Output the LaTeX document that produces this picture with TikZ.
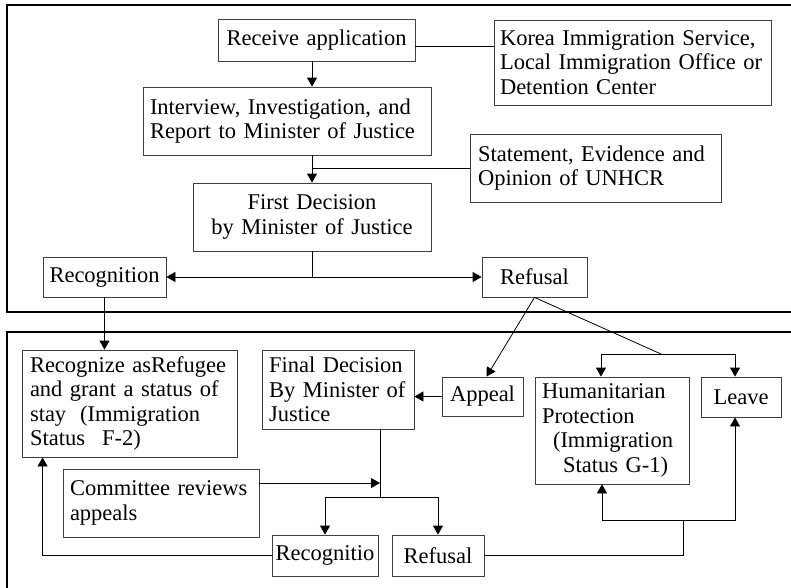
\documentclass[tikz,border=0pt]{standalone}
\usepackage{fontspec}
\setmainfont{Liberation Serif}
\usetikzlibrary{arrows.meta}

\tikzset{
	box/.style={draw=black!75, line width=0.8pt, inner xsep=3pt, inner ysep=2pt,
		font=\fontsize{22.5}{24.5}\selectfont},
	lbox/.style={box, align=left},
	cbox/.style={box, align=center},
	panel/.style={draw=black, line width=2pt},
	>={Triangle[length=9pt,width=10pt]}
}

\begin{document}
\begin{tikzpicture}[x=1pt,y=-1pt,line width=0.8pt]
	\clip (0,0) rectangle (791,587);
	% the two stages
	\draw[panel] (7,5) rectangle (810,312);
	\draw[panel] (7,332) rectangle (810,610);

	% first stage
	\node[cbox, text width=191pt, minimum height=42pt] (recv) at (316.5,40) {Receive application};
	\node[lbox, text width=271pt, minimum height=85pt] (kis) at (632.5,62.5) {\hspace*{3pt}Korea Immigration Service,\\\hspace*{3pt}Local Immigration Office or\\\hspace*{3pt}Detention Center};
	\node[lbox, text width=282pt, minimum height=68pt] (interv) at (287,121) {\hspace*{4pt}Interview, Investigation, and\\\hspace*{4pt}Report to Minister of Justice};
	\node[lbox, text width=245pt, minimum height=68pt] (unhcr) at (595.5,168) {\hspace*{5pt}Statement, Evidence and\\\hspace*{5pt}Opinion of UNHCR};
	\node[cbox, text width=232pt, minimum height=68pt] (first) at (312,217) {First Decision\\by Minister of Justice};
	\node[cbox, text width=117pt, minimum height=40pt] (recog1) at (104.5,277) {Recognition};
	\node[cbox, text width=99pt, minimum height=40pt] (refus1) at (534.5,277) {Refusal};

	% second stage
	\node[lbox, text width=209pt, minimum height=107pt] (grant) at (129.5,403.5) {\hspace*{5pt}Recognize asRefugee\\\hspace*{5pt}and grant a status of\\\hspace*{5pt}stay\hspace{14pt}(Immigration\\\hspace*{5pt}Status\hspace{17pt}F-2)};
	\node[lbox, text width=146pt, minimum height=79pt] (final) at (338,389.5) {\hspace*{4pt}Final Decision\\\hspace*{4pt}By Minister of\\\hspace*{4pt}Justice};
	\node[cbox, text width=75pt, minimum height=39pt] (appeal) at (482.5,396.5) {Appeal};
	\node[lbox, text width=148pt, minimum height=107pt] (human) at (612,430.5) {\hspace*{4pt}Humanitarian\\\hspace*{4pt}Protection\\\hspace*{15pt}(Immigration\\\hspace*{25pt}Status G-1)};
	\node[cbox, text width=74pt, minimum height=40pt] (leave) at (741,397) {Leave};
	\node[lbox, text width=190pt, minimum height=68pt] (cttee) at (161,503) {\hspace*{4pt}Committee reviews\\\hspace*{4pt}appeals};
	\node[cbox, text width=100pt, minimum height=41pt] (recog2) at (325,555.5) {Recognitio};
	\node[cbox, text width=86pt, minimum height=41pt] (refus2) at (438,555.5) {Refusal};

	\coordinate (split) at (661,354);
	\coordinate (fjoin) at (380,497);
	\coordinate (rjoin) at (683,520);

	\draw ([yshift=-6pt]recv.east) -- ([yshift=-6pt]recv.east -| kis.west);
	\draw[->] (recv.south -| first.north) -- (interv.north -| first.north);
	\draw[->] (interv.south -| first.north) -- (first.north);
	\draw (first.north |- unhcr.west) -- (unhcr.west);
	\draw (first.south) -- (first.south |- recog1.east);
	\draw[<->] (recog1.east) -- (refus1.west);
	\draw[->] (recog1.south) -- (recog1.south |- grant.north);

	\draw[->] (refus1.south) -- ([xshift=4pt]appeal.north);
	\draw (refus1.south) -- (split);
	\draw[->] (split) -| ([xshift=-11pt]human.north);
	\draw[->] (split) -| ([xshift=-6pt]leave.north);
	\draw[->] (appeal.west) -- (appeal.west -| final.east);

	\draw (final.south -| fjoin) -- (fjoin);
	\draw[->] ([yshift=20pt]cttee.east) -- ([yshift=20pt]cttee.east -| fjoin);
	\draw[->] (fjoin) -| (recog2.north);
	\draw[->] (fjoin) -| (refus2.north);
	\draw[->] (recog2.west) -| ([xshift=21pt]grant.south west);
	\draw (refus2.east) -| (rjoin);
	\draw[->] (rjoin) -| ([xshift=-10pt]human.south);
	\draw[->] (rjoin) -| ([xshift=-6pt]leave.south);
\end{tikzpicture}
\end{document}
